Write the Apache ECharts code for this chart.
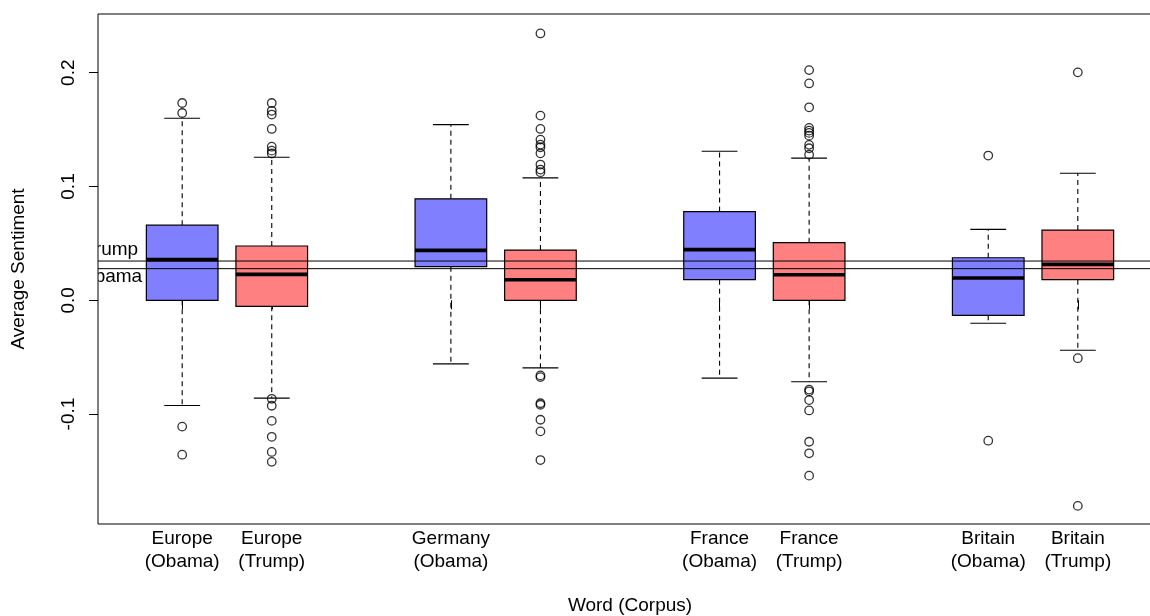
<!DOCTYPE html>
<html>
<head>
<meta charset="utf-8">
<title>Average Sentiment by Word and Corpus</title>
<script src="https://cdn.jsdelivr.net/npm/echarts@6/dist/echarts.min.js"></script>
<style>
  html, body { margin: 0; padding: 0; background: #fff; overflow: hidden; width: 1150px; height: 616px; }
  /* the plot frame runs a little past the right edge of the page */
  #chart { width: 1170px; height: 616px; }
</style>
</head>
<body>
<div id="chart"></div>
<script>
// Groups in plotting order; slots 3, 6 and 9 are left empty as spacers.
const positions = [1, 2, 4, 5, 7, 8, 10, 11];
const words   = ['Europe', 'Europe', 'Germany', 'Germany', 'France', 'France', 'Britain', 'Britain'];
const corpora = ['Obama', 'Trump', 'Obama', 'Trump', 'Obama', 'Trump', 'Obama', 'Trump'];
// Tick labels under each box (Germany/Trump is left unlabelled)
const tickLabels = ['Europe\n(Obama)', 'Europe\n(Trump)', 'Germany\n(Obama)', '',
                    'France\n(Obama)', 'France\n(Trump)', 'Britain\n(Obama)', 'Britain\n(Trump)'];

// Five-number summaries
const lowerWhisker = [-0.0924, -0.0860, -0.0559, -0.0594, -0.0684, -0.0716, -0.0202, -0.0439];
const q1           = [ 0.0000, -0.0053,  0.0295,  0.0000,  0.0181,  0.0000, -0.0132,  0.0181];
const medians      = [ 0.0357,  0.0228,  0.0439,  0.0181,  0.0445,  0.0225,  0.0196,  0.0316];
const q3           = [ 0.0660,  0.0477,  0.0892,  0.0441,  0.0780,  0.0506,  0.0374,  0.0617];
const upperWhisker = [ 0.1600,  0.1257,  0.1544,  0.1076,  0.1310,  0.1249,  0.0623,  0.1117];

// Points beyond the whiskers
const outliers = [
  [0.1734, 0.1646, -0.1110, -0.1357],
  [0.1734, 0.1665, 0.1632, 0.1506, 0.1350, 0.1315, 0.1290,
   -0.0866, -0.0927, -0.1060, -0.1200, -0.1333, -0.1420],
  [],
  [0.2345, 0.1623, 0.1506, 0.1412, 0.1368, 0.1345, 0.1292, 0.1193, 0.1149, 0.1126,
   -0.0660, -0.0675, -0.0905, -0.0918, -0.1050, -0.1152, -0.1404],
  [],
  [0.2023, 0.1906, 0.1696, 0.1515, 0.1491, 0.1471, 0.1447, 0.1366, 0.1336, 0.1280,
   -0.0785, -0.0800, -0.0877, -0.0968, -0.1243, -0.1345, -0.1541],
  [0.1272, -0.1234],
  [0.2003, -0.0509, -0.1807]
];

// Overall corpus means drawn as reference lines
const meanNames  = ['Trump', 'Obama'];
const meanValues = [0.0345, 0.0278];

// Axis limits and tick values
const xLimits = [0.06, 11.94];
const yLimits = [-0.1966, 0.2516];
const yTicks = [-0.1, 0.0, 0.1, 0.2];

const FONT = '"Liberation Sans", Arial, Helvetica, sans-serif';
const corpusFill = { Obama: '#8080ff', Trump: '#ff8080' };

const boxData = positions.map((p, i) =>
  [p, lowerWhisker[i], q1[i], medians[i], q3[i], upperWhisker[i], i]);

const outlierData = [];
outliers.forEach((vals, i) => vals.forEach(v => outlierData.push([positions[i], v])));

function renderBox(params, api) {
  const x = api.value(0);
  const lo = api.value(1), b1 = api.value(2), md = api.value(3), b3 = api.value(4), hi = api.value(5);
  const idx = api.value(6);
  const halfBox = 0.4, halfCap = 0.2;
  const P = (xv, yv) => api.coord([xv, yv]);
  const pLo = P(x, lo), pHi = P(x, hi), pQ1 = P(x, b1), pQ3 = P(x, b3);
  const left = P(x - halfBox, md)[0], right = P(x + halfBox, md)[0];
  const capL = P(x - halfCap, md)[0], capR = P(x + halfCap, md)[0];
  const pMd = P(x, md);
  const dashed = { stroke: '#000', lineWidth: 1.1, lineDash: [5, 4], fill: null };
  const solid = { stroke: '#000', lineWidth: 1.1, fill: null };
  return {
    type: 'group',
    children: [
      { type: 'line', shape: { x1: pQ3[0], y1: pQ3[1], x2: pHi[0], y2: pHi[1] }, style: dashed },
      { type: 'line', shape: { x1: pQ1[0], y1: pQ1[1], x2: pLo[0], y2: pLo[1] }, style: dashed },
      { type: 'line', shape: { x1: capL, y1: pHi[1], x2: capR, y2: pHi[1] }, style: solid },
      { type: 'line', shape: { x1: capL, y1: pLo[1], x2: capR, y2: pLo[1] }, style: solid },
      { type: 'rect', shape: { x: left, y: pQ3[1], width: right - left, height: pQ1[1] - pQ3[1] },
        style: { fill: corpusFill[corpora[idx]], stroke: '#000', lineWidth: 1.2 } },
      { type: 'line', shape: { x1: left, y1: pMd[1], x2: right, y2: pMd[1] },
        style: { stroke: '#000', lineWidth: 3.6 } }
    ]
  };
}

// Mean lines span the whole plot; their names sit at the left edge and are cut by it
const labelOffsets = { Trump: -11, Obama: 8 };
function renderMean(params, api) {
  const v = api.value(0);
  const name = meanNames[params.dataIndex];
  const a = api.coord([xLimits[0], v]);
  const b = api.coord([xLimits[1], v]);
  return {
    type: 'group',
    children: [
      { type: 'line', shape: { x1: a[0], y1: a[1], x2: b[0], y2: b[1] },
        style: { stroke: '#000', lineWidth: 1 } },
      { type: 'text', x: a[0] + 13, y: a[1] + labelOffsets[name],
        style: { text: name, fill: '#000', font: '19px ' + FONT,
                 textAlign: 'center', textVerticalAlign: 'middle' } }
    ]
  };
}

const chart = echarts.init(document.getElementById('chart'), null, { renderer: 'canvas' });
chart.setOption({
  animation: false,
  backgroundColor: '#fff',
  grid: {
    left: 98, top: 14, width: 1064, height: 510,
    show: true, borderColor: '#000', borderWidth: 1, backgroundColor: 'transparent'
  },
  xAxis: {
    type: 'value',
    min: xLimits[0], max: xLimits[1],
    axisLine: { show: false },
    splitLine: { show: false },
    axisTick: { show: true, length: 9, customValues: positions, lineStyle: { color: '#000', width: 1 } },
    axisLabel: {
      customValues: positions,
      formatter: v => tickLabels[positions.indexOf(Math.round(v))] || '',
      color: '#000', fontFamily: FONT, fontSize: 19, lineHeight: 23, margin: 3
    }
  },
  yAxis: {
    type: 'value',
    min: yLimits[0], max: yLimits[1],
    axisLine: { show: false },
    splitLine: { show: false },
    axisTick: { show: true, length: 9, customValues: yTicks, lineStyle: { color: '#000', width: 1 } },
    axisLabel: {
      customValues: yTicks,
      rotate: 90,
      formatter: v => v.toFixed(1),
      color: '#000', fontFamily: FONT, fontSize: 19, margin: 20
    }
  },
  graphic: [
    { type: 'text', x: 19, y: 269, rotation: Math.PI / 2,
      style: { text: 'Average Sentiment', fill: '#000', font: '19px ' + FONT,
               textAlign: 'center', textVerticalAlign: 'middle' } },
    { type: 'text', x: 630, y: 606,
      style: { text: 'Word (Corpus)', fill: '#000', font: '19px ' + FONT,
               textAlign: 'center', textVerticalAlign: 'middle' } }
  ],
  series: [
    {
      type: 'custom',
      name: 'boxes',
      renderItem: renderBox,
      data: boxData,
      encode: { x: 0, y: [1, 2, 3, 4, 5] },
      z: 2,
      silent: true
    },
    {
      type: 'scatter',
      name: 'outliers',
      data: outlierData,
      symbol: 'circle',
      symbolSize: 8.5,
      itemStyle: { color: 'rgba(255,255,255,0)', borderColor: '#000', borderWidth: 1.3 },
      z: 3,
      silent: true
    },
    {
      type: 'custom',
      name: 'means',
      renderItem: renderMean,
      data: meanValues.map(v => [v]),
      encode: { y: 0 },
      clip: true,
      z: 4,
      silent: true
    }
  ]
});
</script>
</body>
</html>
